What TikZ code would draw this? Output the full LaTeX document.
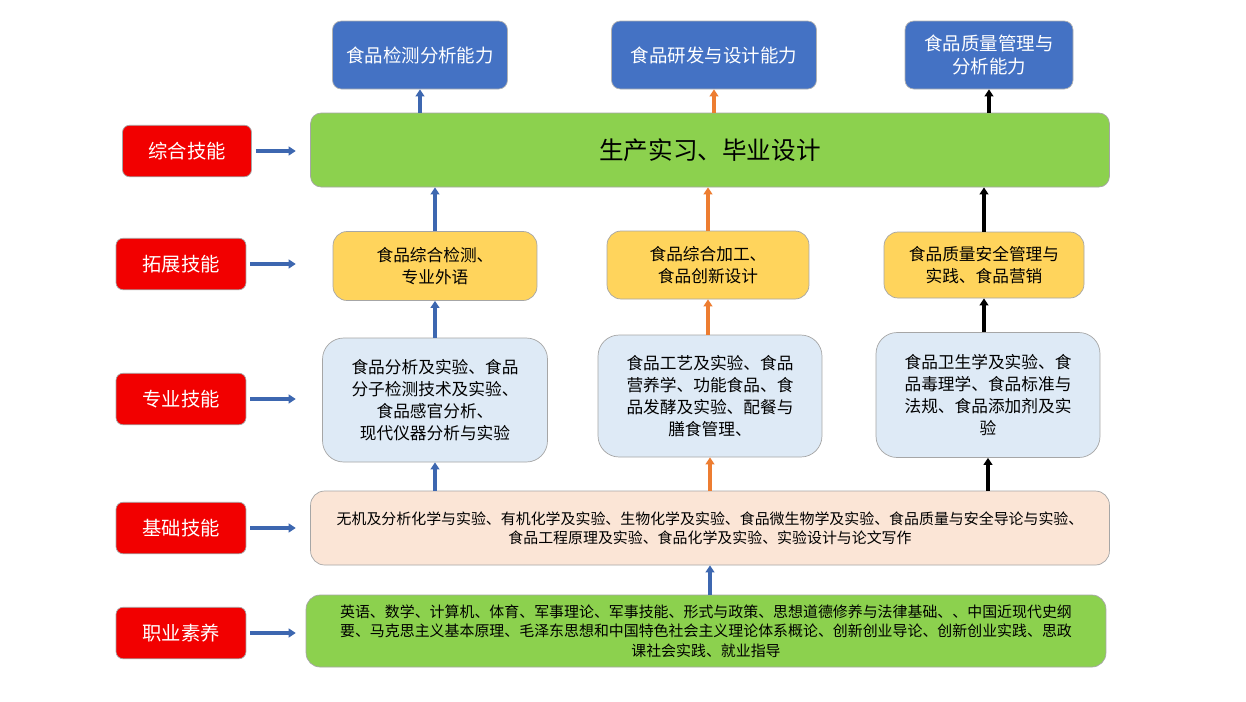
\documentclass[tikz,border=0pt]{standalone}
\usepackage{fontspec}
\setmainfont{Noto Sans CJK SC}
\usetikzlibrary{arrows.meta}
\definecolor{topblue}{HTML}{4472C4}
\definecolor{topgreen}{HTML}{8CD14E}
\definecolor{skillred}{HTML}{F20000}
\definecolor{boxyellow}{HTML}{FFD45C}
\definecolor{boxblue}{HTML}{DEEAF6}
\definecolor{boxpeach}{HTML}{FBE5D6}
\definecolor{arrorange}{HTML}{ED7D31}
\begin{document}
\begin{tikzpicture}[x=0.02cm, y=-0.02cm,
    skill/.style={rectangle, rounded corners=4pt, fill=skillred, draw=gray!70, text=white, font=\fontsize{11}{13}\selectfont, minimum width=2.6cm, minimum height=1.03cm},
    ability/.style={rectangle, rounded corners=5pt, fill=topblue, draw=gray!60, text=white, font=\fontsize{10.5}{13}\selectfont, minimum height=1.36cm, align=center},
    course/.style={rectangle, rounded corners=8pt, draw=gray!70, align=center, font=\fontsize{9.5}{12.5}\selectfont},
    link/.style={-{Triangle[length=4pt,width=5pt]}, line width=2pt, draw=topblue!90!black}]
    \useasboundingbox (0,0) rectangle (1246,701);
    \fill[white] (0,0) rectangle (1246,701);
    % top abilities
    \node [ability, minimum width=3.5cm] (A1) at (420,55) {食品检测分析能力};
    \node [ability, minimum width=4.1cm] (A2) at (714,55) {食品研发与设计能力};
    \node [ability, minimum width=3.36cm] (A3) at (989,55) {食品质量管理与\\分析能力};
    
    \node [course, rounded corners=6pt, fill=topgreen, minimum width=15.98cm, minimum height=1.48cm, font=\fontsize{14}{16}\selectfont] (G) at (710,150) {生产实习、毕业设计};
    
    \node [course, fill=boxyellow, minimum width=4.08cm, minimum height=1.38cm] (Y1) at (435,266) {食品综合检测、\\专业外语};
    \node [course, fill=boxyellow, minimum width=4.04cm, minimum height=1.36cm] (Y2) at (708,265) {食品综合加工、\\食品创新设计};
    \node [course, fill=boxyellow, minimum width=4.0cm, minimum height=1.32cm] (Y3) at (984,265) {食品质量安全管理与\\实践、食品营销};
    
    \node [course, rounded corners=12pt, fill=boxblue, minimum width=4.5cm, minimum height=2.48cm] (B1) at (435,400) {食品分析及实验、食品\\分子检测技术及实验、\\食品感官分析、\\现代仪器分析与实验};
    \node [course, rounded corners=12pt, fill=boxblue, minimum width=4.48cm, minimum height=2.44cm] (B2) at (710,396) {食品工艺及实验、食品\\营养学、功能食品、食\\品发酵及实验、配餐与\\膳食管理、};
    \node [course, rounded corners=12pt, fill=boxblue, minimum width=4.48cm, minimum height=2.5cm] (B3) at (988,395) {食品卫生学及实验、食\\品毒理学、食品标准与\\法规、食品添加剂及实\\验};
    
    \node [course, fill=boxpeach, minimum width=15.98cm, minimum height=1.48cm, font=\fontsize{8.5}{11}\selectfont] (P) at (710,528) {无机及分析化学与实验、有机化学及实验、生物化学及实验、食品微生物学及实验、食品质量与安全导论与实验、\\食品工程原理及实验、食品化学及实验、实验设计与论文写作};
    \node [course, fill=topgreen, minimum width=16cm, minimum height=1.44cm, font=\fontsize{8.5}{11}\selectfont] (L) at (706,631) {英语、数学、计算机、体育、军事理论、军事技能、形式与政策、思想道德修养与法律基础、、中国近现代史纲\\要、马克思主义基本原理、毛泽东思想和中国特色社会主义理论体系概论、创新创业导论、创新创业实践、思政\\课社会实践、就业指导};
    
    % skill labels
    \node [skill, minimum width=2.58cm] (S1) at (187,151) {综合技能};
    \node [skill] (S2) at (181,264) {拓展技能};
    \node [skill] (S3) at (181,399) {专业技能};
    \node [skill] (S4) at (181,528) {基础技能};
    \node [skill] (S5) at (181,633) {职业素养};
    \foreach \s/\t in {S1/G,S2/Y1,S3/B1,S4/P,S5/L}
        \draw [link] ([xshift=0.08cm]\s.east) -- ([xshift=-0.2cm]\s.east -| L.west);
    
    % columns
    \draw [link] (L.north -| P.north) -- (P.south);
    \draw [link] (P.north -| B1.south) -- (B1.south);
    \draw [link] (B1.north) -- (Y1.south);
    \draw [link] (Y1.north) -- (Y1.north |- G.south);
    \draw [link] (G.north -| A1.south) -- (A1.south);
    \draw [link, draw=arrorange] (P.north -| B2.south) -- (B2.south);
    \draw [link, draw=arrorange] (B2.north -| Y2.south) -- (Y2.south);
    \draw [link, draw=arrorange] (Y2.north) -- (Y2.north |- G.south);
    \draw [link, draw=arrorange] (G.north -| A2.south) -- (A2.south);
    \draw [link, draw=black] (P.north -| B3.south) -- (B3.south);
    \draw [link, draw=black] (B3.north -| Y3.north) -- (Y3.south);
    \draw [link, draw=black] (Y3.north) -- (Y3.north |- G.south);
    \draw [link, draw=black] (G.north -| A3.south) -- (A3.south);
\end{tikzpicture}
\end{document}
